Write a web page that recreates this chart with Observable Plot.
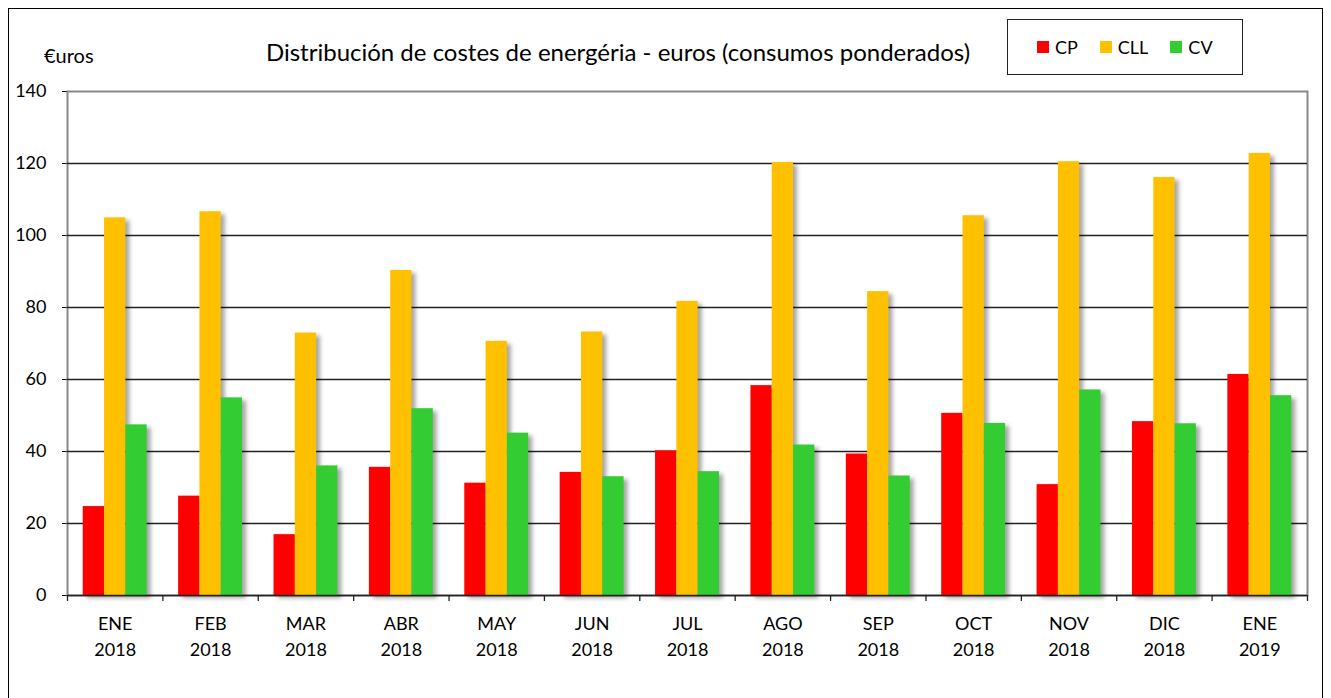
<!DOCTYPE html>
<html>
<head>
<meta charset="utf-8">
<script src="https://cdn.jsdelivr.net/npm/d3@7"></script>
<script src="https://cdn.jsdelivr.net/npm/@observablehq/plot@0.6"></script>
<style>
  html, body { margin: 0; padding: 0; background: #fff; }
  body { font-family: Lato, "Open Sans", sans-serif; }
  #wrap { position: relative; width: 1331px; height: 698px; overflow: hidden; }
  #border { position: absolute; left: 8px; top: 8px; width: 1315px; height: 720px; border: 1px solid #000; box-sizing: border-box; }
  #title { position: absolute; left: 0; width: 1236px; top: 37px; text-align: center; font-size: 24px; color: #000; white-space: nowrap; }
  #unit { position: absolute; left: 44px; top: 43px; font-size: 20px; color: #000; }
  #legend { position: absolute; left: 1007px; top: 19px; width: 236px; height: 56px; border: 1px solid #222; box-sizing: border-box; display: flex; align-items: center; padding-left: 29px; font-size: 18px; }
  #legend .item { display: flex; align-items: center; margin-right: 22px; }
  #legend .sw { width: 12px; height: 12px; margin-right: 6px; }
  #chart { position: absolute; left: 0; top: 0; }
  g[aria-label="bar"] rect { filter: drop-shadow(4px 3px 2px rgba(0,0,0,0.35)); }
</style>
</head>
<body>
<div id="wrap">
  <div id="chart"></div>
  <div id="border"></div>
  <div id="unit">€uros</div>
  <div id="title">Distribución de costes de energéria - euros (consumos ponderados)</div>
  <div id="legend"></div>
</div>
<script>
const months = ["ENE\n2018","FEB\n2018","MAR\n2018","ABR\n2018","MAY\n2018","JUN\n2018","JUL\n2018","AGO\n2018","SEP\n2018","OCT\n2018","NOV\n2018","DIC\n2018","ENE\n2019"];
const seriesNames = ["CP", "CLL", "CV"];
const seriesColors = ["#FF0000", "#FFC000", "#33CC33"];
const cp  = [24.7, 27.6, 16.9, 35.6, 31.2, 34.2, 40.2, 58.3, 39.3, 50.6, 30.8, 48.3, 61.4];
const cll = [104.9, 106.6, 72.9, 90.3, 70.6, 73.2, 81.7, 120.3, 84.4, 105.5, 120.5, 116.1, 122.8];
const cv  = [47.4, 54.9, 36.0, 51.9, 45.1, 33.0, 34.4, 41.8, 33.2, 47.8, 57.1, 47.7, 55.5];
const yTicks = [0, 20, 40, 60, 80, 100, 120, 140];

const valuesBySeries = [cp, cll, cv];
const data = [];
seriesNames.forEach((s, si) => months.forEach((m, mi) => data.push({month: m, series: s, value: valuesBySeries[si][mi]})));

const W = 1331, H = 698, mL = 67, mR = 24, mT = 91, mB = 103;
const step = (W - mL - mR) / months.length;
const outer = 0.165 * step;
const barW = (step - 2 * outer) / 3;

const barMarks = seriesNames.map((s, si) => Plot.barY(data.filter(d => d.series === s), {
  x: "month", y: "value", fill: seriesColors[si],
  insetLeft: outer + si * barW, insetRight: step - outer - (si + 1) * barW
}));

const chart = Plot.plot({
  width: W, height: H,
  marginLeft: mL, marginRight: mR, marginTop: mT, marginBottom: mB,
  style: {fontFamily: "Lato, sans-serif", fontSize: "18px", color: "#000", background: "transparent"},
  x: {type: "band", domain: months, padding: 0, round: false, axis: null},
  y: {domain: [0, 140], ticks: yTicks, tickSize: 5, tickPadding: 16, line: true, label: null, tickFormat: d => d},
  marks: [
    Plot.frame({stroke: "#888", strokeWidth: 2}),
    Plot.ruleY(yTicks.slice(1, -1), {stroke: "#222", strokeWidth: 1.3}),
    ...barMarks,
    Plot.ruleY([0], {stroke: "#222", strokeWidth: 1.5}),
    Plot.ruleX(months, {x: d => d, y1: 0, y2: 0, insetBottom: -6, dx: -step / 2, stroke: "#222", strokeWidth: 1.3}),
    Plot.ruleX(months.slice(-1), {x: d => d, y1: 0, y2: 0, insetBottom: -6, dx: step / 2, stroke: "#222", strokeWidth: 1.3}),
    Plot.text(months, {x: d => d, y: 0, text: d => d, dy: 39, lineHeight: 1.45, fontSize: 18, fill: "#000"})
  ]
});
document.getElementById("chart").appendChild(chart);

const legend = document.getElementById("legend");
seriesNames.forEach((s, i) => {
  const item = document.createElement("div");
  item.className = "item";
  item.innerHTML = `<div class="sw" style="background:${seriesColors[i]}"></div><span>${s}</span>`;
  legend.appendChild(item);
});
</script>
</body>
</html>
